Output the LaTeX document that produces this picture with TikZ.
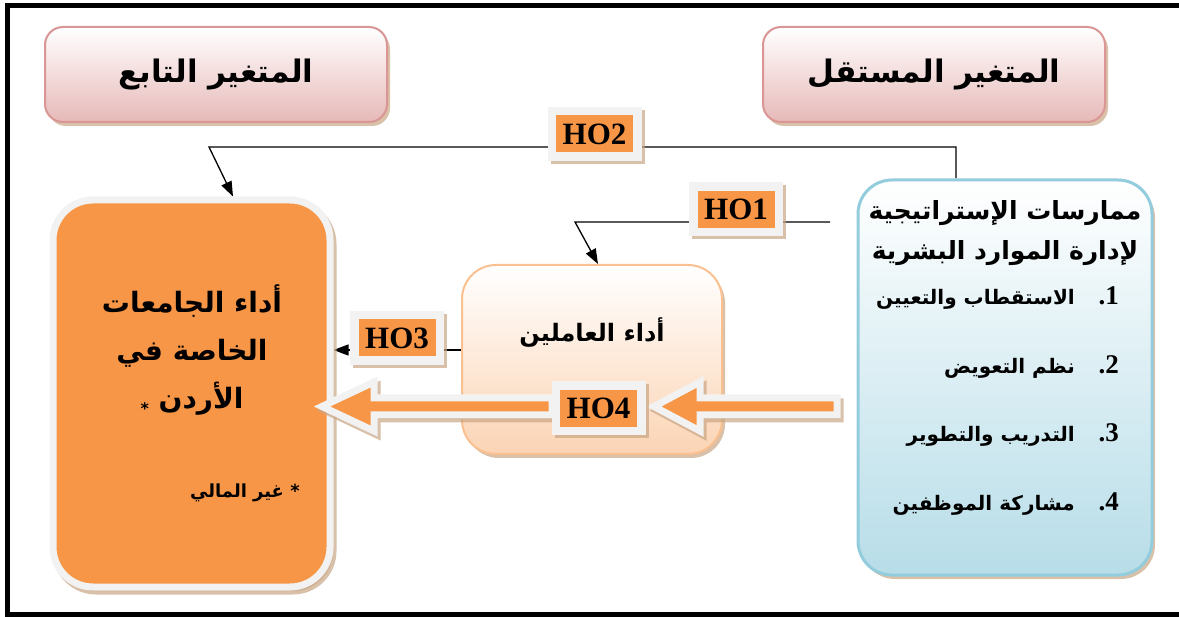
\documentclass[tikz,border=0pt]{standalone}
\usepackage{fontspec}
\usetikzlibrary{arrows.meta}
\TeXXeTstate=1
\newfontfamily\arabicfont[Script=Arabic]{DejaVu Sans}
\newfontfamily\hofont{Liberation Serif}
\definecolor{orng}{HTML}{F79646}
\definecolor{lgray}{HTML}{F2F2F2}
\definecolor{pinkb}{HTML}{D99694}
\definecolor{pinkf}{HTML}{E6B9B8}
\definecolor{blueb}{HTML}{93CDDD}
\definecolor{bluef}{HTML}{B7DDE8}
\definecolor{peachb}{HTML}{FAC090}
\definecolor{peachf}{HTML}{FBD4B4}
\definecolor{shadowc}{HTML}{C9A584}
\pgfdeclarelayer{bg}\pgfsetlayers{bg,main}
\tikzset{
  shad/.style={preaction={fill=shadowc, opacity=0.7, transform canvas={xshift=3pt,yshift=-4pt}}},
  pinkbox/.style={rounded corners=18pt, draw=pinkb, line width=2pt, top color=white, bottom color=pinkf,
    minimum width=342pt, minimum height=95pt, shad, font=\arabicfont\bfseries\fontsize{31}{36}\selectfont},
  bluebox/.style={rounded corners=34pt, draw=blueb, line width=3pt, top color=white, bottom color=bluef,
    minimum width=294pt, minimum height=395pt, shad},
  peachbox/.style={rounded corners=34pt, draw=peachb, line width=2pt, top color=white, bottom color=peachf,
    minimum width=260pt, minimum height=189pt, shad},
  orbox/.style={rounded corners=40pt, fill=orng, draw=lgray, line width=7pt,
    minimum width=277pt, minimum height=387pt,
    preaction={fill=shadowc, draw=shadowc, line width=7pt, opacity=0.7, transform canvas={xshift=3pt,yshift=-4pt}}},
  holabel/.style={fill=orng, draw=lgray, line width=8.5pt, minimum width=85.5pt, minimum height=45.5pt, inner sep=0pt,
    font=\hofont\bfseries\fontsize{31}{31}\selectfont,
    preaction={fill=shadowc, draw=shadowc, line width=8.5pt, opacity=0.7, transform canvas={xshift=3pt,yshift=-3pt}}},
  blockarrow/.style={fill=orng, draw=lgray, line width=7pt, line join=miter,
    preaction={fill=shadowc, draw=shadowc, line width=7pt, opacity=0.7, transform canvas={xshift=3pt,yshift=-4pt}}},
  bigtext/.style={font=\arabicfont\bfseries\fontsize{28}{48}\selectfont, align=center, inner sep=0pt},
  titletext/.style={font=\arabicfont\bfseries\fontsize{25}{40}\selectfont, align=center, inner sep=0pt},
  itemtext/.style={font=\arabicfont\bfseries\fontsize{20}{24}\selectfont, inner sep=0pt},
  itemnum/.style={font=\hofont\bfseries\fontsize{27}{27}\selectfont, inner sep=0pt},
  conn/.style={line width=1.3pt, black},
  arr/.style={-{Triangle[length=15pt,width=11pt]}},
}
\begin{document}
\begin{tikzpicture}[x=1pt,y=-1pt]
\useasboundingbox (0,0) rectangle (1179,617);
% frame
\draw[line width=5pt, black] (1179,6) -- (7,6) -- (7,614) -- (1179,614);
\draw[line width=4pt, black] (7,6) -- (7,614);

% header boxes
\node[pinkbox] (dep) at (216,74.5) {\beginR المتغير التابع\endR};
\node[pinkbox] (indep) at (934,74.5) {\beginR المتغير المستقل\endR};

% right blue box
\node[bluebox] (hrm) at (1005,377.5) {};
\node[titletext] (hrmtitle) at (1005,233) {\beginR ممارسات الإستراتيجية\endR\\ \beginR لإدارة الموارد البشرية\endR};
\node[itemtext, anchor=base east] (it1) at (1075,305) {\beginR الاستقطاب والتعيين\endR};
\node[itemtext, anchor=base east] (it2) at (1075,374) {\beginR نظم التعويض\endR};
\node[itemtext, anchor=base east] (it3) at (1075,442) {\beginR التدريب والتطوير\endR};
\node[itemtext, anchor=base east] (it4) at (1075,511) {\beginR مشاركة الموظفين\endR};
\node[itemnum, anchor=base east] (n1) at (1119,305) {.1};
\node[itemnum, anchor=base east] (n2) at (1119,374) {.2};
\node[itemnum, anchor=base east] (n3) at (1119,442) {.3};
\node[itemnum, anchor=base east] (n4) at (1119,511) {.4};

% middle box
\node[peachbox] (emp) at (592,359.5) {};
\node[bigtext, font=\arabicfont\bfseries\fontsize{24}{30}\selectfont] (emptxt) at (592,333) {\beginR أداء العاملين\endR};

% left orange box
\node[orbox] (uni) at (191.5,393.5) {};
\node[bigtext] (unitxt) at (192,350) {\beginR أداء الجامعات\endR\\ \beginR الخاصة في\endR\\ \beginR الأردن \raisebox{-6pt}{\fontsize{16}{16}\selectfont *}\endR};
\node[font=\arabicfont\bfseries\fontsize{18}{20}\selectfont, inner sep=0pt] (note) at (245,493) {\beginR * غير المالي\endR};

% block arrows
\draw[blockarrow] (837,398) -- (700,398) -- (700,382) -- (654,406.5) -- (700,431) -- (700,415) -- (837,415) -- cycle;
\draw[blockarrow] (552,398) -- (374,398) -- (374,382) -- (322,406.5) -- (374,431) -- (374,415) -- (552,415) -- cycle;

% hypothesis labels
\node[holabel] (ho2) at (594.5,134) {HO2};
\node[holabel] (ho1) at (736,209.5) {HO1};
\node[holabel] (ho3) at (397,338) {HO3};
\node[holabel] (ho4) at (598.5,408.5) {HO4};

% connectors
\coordinate (k2) at (209,147);
\coordinate (h1s) at (830,222);
\coordinate (k1) at (575,222);
\begin{pgfonlayer}{bg}
\draw[conn, arr] ([xshift=-49pt]hrm.north) |- (k2) -- ([xshift=41.5pt]uni.north);
\draw[conn, arr] (h1s) -- (k1) -- ([xshift=6pt]emp.north);
\draw[conn, arr] ([yshift=9.5pt]emp.west) -- ([yshift=43.5pt]uni.east);
\end{pgfonlayer}
\end{tikzpicture}
\end{document}
